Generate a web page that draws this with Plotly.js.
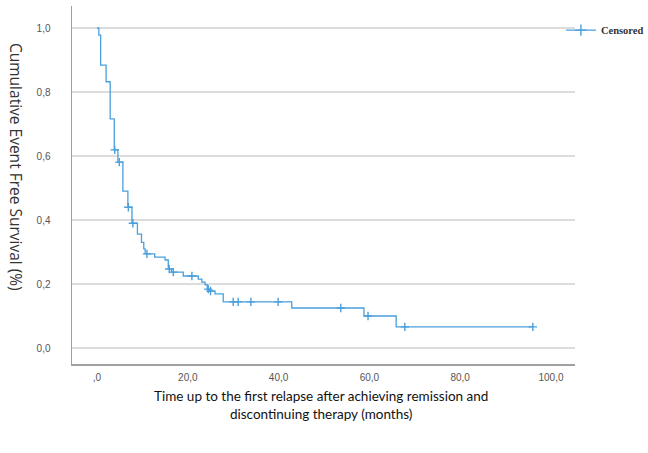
<!DOCTYPE html>
<html>
<head>
<meta charset="utf-8">
<script src="https://cdn.plot.ly/plotly-3.0.1.min.js"></script>
<style>
html,body{margin:0;padding:0;background:#fff;}
#chart{width:648px;height:453px;}
</style>
</head>
<body>
<div id="chart"></div>
<script>
// Kaplan-Meier step data (time in months, survival after step)
const stepTimes = [0, 0.4, 0.8, 2.0, 2.9, 3.8, 4.6, 5.7, 6.8, 7.7, 8.9, 9.8, 10.3, 10.6, 12.7, 15.0, 15.7, 16.4, 19.0, 22.3, 23.1, 23.8, 24.3, 24.8, 26.0, 27.8, 42.9, 58.8, 65.9];
const stepSurv  = [1.0, 0.978, 0.884, 0.832, 0.716, 0.619, 0.581, 0.49, 0.44, 0.39, 0.356, 0.33, 0.31, 0.294, 0.284, 0.275, 0.247, 0.237, 0.225, 0.215, 0.206, 0.197, 0.184, 0.178, 0.169, 0.144, 0.125, 0.10, 0.066];
const lastFollowUp = 96.0;
// Censored observations (months)
const censorTimes = [3.9, 4.9, 6.9, 7.9, 11.0, 15.9, 16.8, 20.9, 24.5, 25.0, 30.0, 31.1, 33.9, 39.9, 53.7, 59.7, 67.8, 96.0];
// Axis tick labels
const xTickVals = [0, 20, 40, 60, 80, 100];
const xTickText = [",0", "20,0", "40,0", "60,0", "80,0", "100,0"];
const yTickVals = [0, 0.2, 0.4, 0.6, 0.8, 1.0];
const yTickText = ["0,0", "0,2", "0,4", "0,6", "0,8", "1,0"];

function survAt(t){
  let s = stepSurv[0];
  for (let i = 0; i < stepTimes.length; i++){ if (stepTimes[i] <= t) s = stepSurv[i]; }
  return s;
}
const lineX = stepTimes.concat([lastFollowUp]);
const lineY = stepSurv.concat([stepSurv[stepSurv.length-1]]);
const censorSurv = censorTimes.map(survAt);

const blue = '#4a9fdc';
const traces = [
  {x: lineX, y: lineY, type: 'scatter', mode: 'lines', line: {shape: 'hv', color: blue, width: 1.3}, showlegend: false, hoverinfo: 'skip'},
  {x: censorTimes, y: censorSurv, type: 'scatter', mode: 'markers', marker: {symbol: 'cross-thin', size: 6, line: {color: blue, width: 1.4}, color: blue}, showlegend: false},
  {x: [null], y: [null], type: 'scatter', mode: 'lines+markers', name: 'Censored', line: {color: blue, width: 1.3}, marker: {symbol: 'cross-thin', size: 8, line: {color: blue, width: 1.4}, color: blue}}
];

const layout = {
  width: 648, height: 453,
  margin: {l: 72, r: 73, t: 6, b: 89, autoexpand: false},
  paper_bgcolor: '#fff', plot_bgcolor: '#fff',
  showlegend: true,
  legend: {x: 0.972, y: 0.973, xanchor: 'left', yanchor: 'top', bgcolor: 'rgba(0,0,0,0)',
           font: {family: 'Liberation Serif', size: 10.5, color: '#333', weight: 'bold'}, itemwidth: 30},
  xaxis: {range: [-5.51, 105.29], tickvals: xTickVals, ticktext: xTickText, showgrid: false, zeroline: false,
          showline: true, linecolor: '#a0a0a0', linewidth: 1.5, ticks: '', ticklabelstandoff: 3,
          tickfont: {family: 'Liberation Sans', size: 10, color: '#555'}},
  yaxis: {range: [-0.05, 1.06875], tickvals: yTickVals, ticktext: yTickText, showgrid: true, gridcolor: '#dcdcdc', gridwidth: 1.5,
          zeroline: false, showline: true, linecolor: '#a0a0a0', linewidth: 1.5, ticks: '', ticklabelstandoff: 18,
          tickfont: {family: 'Liberation Sans', size: 10, color: '#555'}},
  annotations: [
    {text: 'Cumulative Event Free Survival (%)', textangle: 90, xref: 'paper', yref: 'paper',
     x: (16-72)/503, y: (364-167)/358, xanchor: 'center', yanchor: 'middle', showarrow: false,
     font: {family: 'Open Sans', size: 15.5, color: '#333'}},
    {text: 'Time up to the first relapse after achieving remission and<br>discontinuing therapy (months)', xref: 'paper', yref: 'paper',
     x: (321-72)/503, y: (364-405)/358, xanchor: 'center', yanchor: 'middle', showarrow: false,
     font: {family: 'Lato', size: 13.5, color: '#111'}}
  ]
};

Plotly.newPlot('chart', traces, layout, {displayModeBar: false, staticPlot: true});
</script>
</body>
</html>
